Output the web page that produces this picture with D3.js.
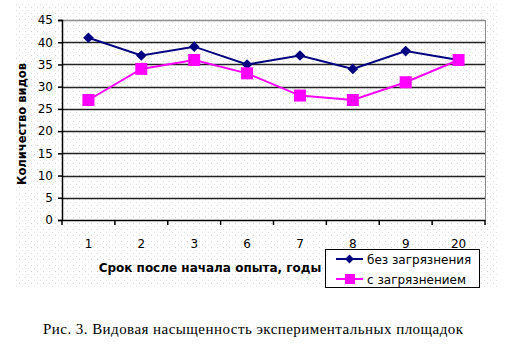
<!DOCTYPE html>
<html>
<head>
<meta charset="utf-8">
<script src="https://cdn.jsdelivr.net/npm/d3@7"></script>
<style>
  body { margin: 0; background: #fff; }
  svg { display: block; }
</style>
</head>
<body>
<div id="chart"></div>
<script>
const years = ["1", "2", "3", "6", "7", "8", "9", "20"];
const cleanValues = [41, 37, 39, 35, 37, 34, 38, 36];
const pollutedValues = [27, 34, 36, 33, 28, 27, 31, 36];
const yTicks = [0, 5, 10, 15, 20, 25, 30, 35, 40, 45];
const seriesNames = ["без загрязнения", "с загрязнением"];

const W = 524, H = 354;
const plot = { left: 62, right: 485, top: 20, bottom: 220 };

const svg = d3.select("#chart").append("svg")
    .attr("width", W)
    .attr("height", H);

// dotted chart background
const defs = svg.append("defs");
const pat = defs.append("pattern")
    .attr("id", "dots")
    .attr("width", 6)
    .attr("height", 6)
    .attr("patternUnits", "userSpaceOnUse");
pat.append("rect").attr("x", 1).attr("y", 1).attr("width", 1).attr("height", 1).attr("fill", "#d4d4d4");
pat.append("rect").attr("x", 4).attr("y", 4).attr("width", 1).attr("height", 1).attr("fill", "#e2e2e2");

svg.append("rect")
    .attr("x", 16).attr("y", 3)
    .attr("width", 481).attr("height", 286)
    .attr("fill", "url(#dots)");

const x = d3.scaleBand()
    .domain(years)
    .range([plot.left, plot.right]);

const y = d3.scaleLinear()
    .domain([0, 45])
    .range([plot.bottom, plot.top]);

// gridlines
svg.append("g")
    .selectAll("line")
    .data(yTicks.filter(d => d > 0))
    .enter()
    .append("line")
    .attr("x1", plot.left)
    .attr("x2", plot.right)
    .attr("y1", d => Math.round(y(d)) + 0.5)
    .attr("y2", d => Math.round(y(d)) + 0.5)
    .attr("stroke", d => d === 45 ? "#8c8c8c" : "#222")
    .attr("stroke-width", 1.3);

// right border of plot area
svg.append("line")
    .attr("x1", plot.right + 0.5).attr("x2", plot.right + 0.5)
    .attr("y1", plot.top).attr("y2", plot.bottom)
    .attr("stroke", "#8c8c8c");

// y axis
const yAxis = svg.append("g")
    .attr("transform", `translate(${plot.left},0)`)
    .call(d3.axisLeft(y).tickValues(yTicks).tickSize(4).tickPadding(5));
yAxis.select(".domain").attr("stroke", "#000").attr("stroke-width", 1.5);
yAxis.selectAll(".tick line").attr("stroke", "#000").attr("stroke-width", 1.5);
yAxis.selectAll("text")
    .attr("font-family", "DejaVu Sans, sans-serif")
    .attr("font-size", 12)
    .attr("fill", "#000");

// x axis
const xAxis = svg.append("g")
    .attr("transform", `translate(0,${plot.bottom})`)
    .call(d3.axisBottom(x).tickSize(0).tickPadding(19));
xAxis.select(".domain").attr("stroke", "#000").attr("stroke-width", 1.5);
xAxis.selectAll("text")
    .attr("font-family", "DejaVu Sans, sans-serif")
    .attr("font-size", 12)
    .attr("fill", "#000");

// category boundary ticks
svg.append("g")
    .selectAll("line")
    .data(years.concat(["end"]))
    .enter()
    .append("line")
    .attr("x1", (d, i) => i < years.length ? x(d) : plot.right)
    .attr("x2", (d, i) => i < years.length ? x(d) : plot.right)
    .attr("y1", plot.bottom)
    .attr("y2", plot.bottom + 5)
    .attr("stroke", "#000")
    .attr("stroke-width", 1.5);

// axis titles
svg.append("text")
    .attr("transform", "translate(26,124) rotate(-90)")
    .attr("text-anchor", "middle")
    .attr("font-family", "DejaVu Sans, sans-serif")
    .attr("font-weight", "bold")
    .attr("font-size", 11.5)
    .text("Количество видов");

svg.append("text")
    .attr("x", 210)
    .attr("y", 272)
    .attr("text-anchor", "middle")
    .attr("font-family", "DejaVu Sans, sans-serif")
    .attr("font-weight", "bold")
    .attr("font-size", 12)
    .text("Срок после начала опыта, годы");

const cx = d => x(d) + x.bandwidth() / 2;
const line = d3.line()
    .x((d, i) => cx(years[i]))
    .y(d => y(d));

const diamond = d3.symbol().type(d3.symbolDiamond2).size(72);

// series: without pollution
svg.append("path")
    .datum(cleanValues)
    .attr("d", line)
    .attr("fill", "none")
    .attr("stroke", "#000080")
    .attr("stroke-width", 2);

svg.selectAll(".m-clean")
    .data(cleanValues)
    .enter()
    .append("path")
    .attr("class", "m-clean")
    .attr("d", diamond)
    .attr("transform", (d, i) => `translate(${cx(years[i])},${y(d)})`)
    .attr("fill", "#000080");

// series: with pollution
svg.append("path")
    .datum(pollutedValues)
    .attr("d", line)
    .attr("fill", "none")
    .attr("stroke", "#ff00ff")
    .attr("stroke-width", 2);

svg.selectAll(".m-poll")
    .data(pollutedValues)
    .enter()
    .append("rect")
    .attr("class", "m-poll")
    .attr("x", (d, i) => cx(years[i]) - 6)
    .attr("y", d => y(d) - 6)
    .attr("width", 12)
    .attr("height", 12)
    .attr("fill", "#ff00ff");

// legend
const legend = svg.append("g").attr("transform", "translate(325,249)");
legend.append("rect")
    .attr("x", 0.5).attr("y", 0.5)
    .attr("width", 154).attr("height", 38)
    .attr("fill", "#fff")
    .attr("stroke", "#000");

const colors = ["#000080", "#ff00ff"];
seriesNames.forEach((name, i) => {
    const ly = 10 + i * 20;
    legend.append("line")
        .attr("x1", 11).attr("x2", 38)
        .attr("y1", ly).attr("y2", ly)
        .attr("stroke", colors[i])
        .attr("stroke-width", 2);
    if (i === 0) {
        legend.append("path")
            .attr("d", d3.symbol().type(d3.symbolDiamond2).size(50))
            .attr("transform", `translate(24.5,${ly})`)
            .attr("fill", colors[i]);
    } else {
        legend.append("rect")
            .attr("x", 20).attr("y", ly - 5)
            .attr("width", 10).attr("height", 10)
            .attr("fill", colors[i]);
    }
    legend.append("text")
        .attr("x", 42)
        .attr("y", ly + 4.5)
        .attr("font-family", "DejaVu Sans, sans-serif")
        .attr("font-size", 12)
        .attr("fill", "#000")
        .text(name);
});

// caption
svg.append("text")
    .attr("x", 253)
    .attr("y", 334)
    .attr("text-anchor", "middle")
    .attr("font-family", "Liberation Serif, Times New Roman, serif")
    .attr("font-size", 15)
    .attr("textLength", 420)
    .attr("lengthAdjust", "spacing")
    .text("Рис. 3. Видовая насыщенность экспериментальных площадок");
</script>
</body>
</html>
